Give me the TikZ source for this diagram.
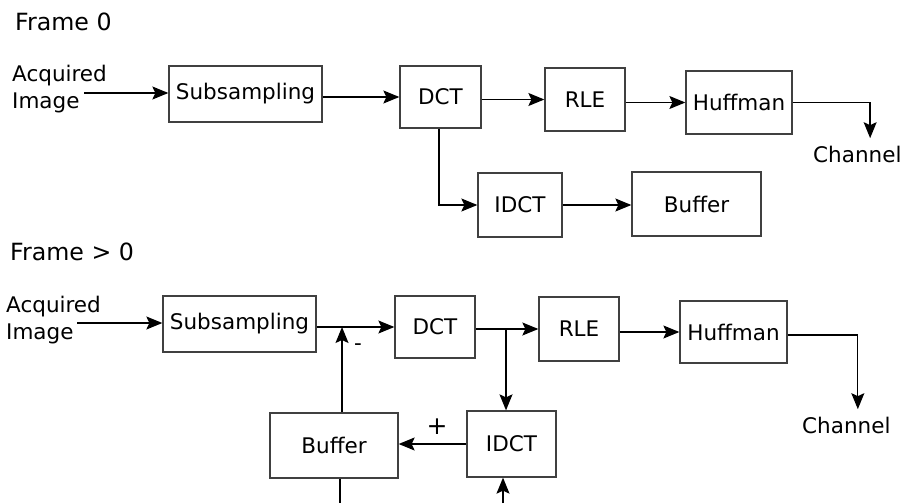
\documentclass[tikz,border=0pt]{standalone}
\usepackage{fontspec}
\setmainfont{DejaVu Sans}
\usetikzlibrary{arrows.meta,calc}

\begin{document}
\begin{tikzpicture}[x=1pt,y=-1pt,
  blk/.style={draw=black!75, line width=1.3pt, inner sep=0pt,
    font=\fontsize{21.5}{26}\selectfont},
  lbl/.style={inner sep=0pt, font=\fontsize{21.5}{27}\selectfont, align=left},
  ttl/.style={inner sep=0pt, font=\fontsize{23.7}{28}\selectfont},
  flow/.style={line width=1.3pt, -{Stealth[length=16pt,width=13pt,inset=3pt]}},
  wire/.style={line width=1.3pt}]
\useasboundingbox (0,0) rectangle (904,503);

% ---------- Frame 0 ----------
\node[ttl, anchor=base west] (f0) at (15,30.3) {Frame 0};
\node[lbl, anchor=west] (acq0) at (12,89.5) {Acquired\\Image};
\coordinate (in0) at (84,93);

\node[blk, minimum width=153pt, minimum height=56pt] (sub0)  at (245.5,94)  {Subsampling};
\node[blk, minimum width=81pt,  minimum height=62pt] (dct0)  at (440.5,97)  {DCT};
\node[blk, minimum width=80pt,  minimum height=63pt] (rle0)  at (585,99.5)  {RLE};
\node[blk, minimum width=106pt, minimum height=63pt] (huf0)  at (739,102.5) {Huffman};
\node[blk, minimum width=84pt,  minimum height=64pt] (idct0) at (520,205)   {IDCT};
\node[blk, minimum width=129pt, minimum height=64pt] (buf0)  at (696.5,204) {Buffer};
\node[lbl, anchor=base west] (chan0) at (813,162.7) {Channel};

\draw[flow] (in0) -- (in0 -| sub0.west);
\draw[flow] (sub0.east |- dct0.west) -- (dct0.west);
\draw[flow] (dct0.east |- rle0.west) -- (rle0.west);
\draw[flow] (rle0.east |- huf0.west) -- (huf0.west);
\draw[flow] (huf0.east) -| ([xshift=12.8pt,yshift=8pt]chan0.north);
\draw[flow] ([xshift=-1.5pt]dct0.south) |- (idct0.west);
\draw[flow] (idct0.east) -- (idct0.east -| buf0.west);

% ---------- Frame > 0 ----------
\node[ttl, anchor=base west] (f1) at (10,260.3) {Frame > 0};
\node[lbl, anchor=west] (acq1) at (6,320.5) {Acquired\\Image};
\coordinate (in1) at (77,323);

\node[blk, minimum width=153pt, minimum height=56pt] (sub1)  at (239.5,324) {Subsampling};
\node[blk, minimum width=80pt,  minimum height=62pt] (dct1)  at (435,327)   {DCT};
\node[blk, minimum width=80pt,  minimum height=64pt] (rle1)  at (579,329)   {RLE};
\node[blk, minimum width=107pt, minimum height=62pt] (huf1)  at (733.5,332) {Huffman};
\node[blk, minimum width=128pt, minimum height=65pt] (buf1)  at (334,445.5) {Buffer};
\node[blk, minimum width=89pt,  minimum height=66pt] (idct1) at (511.5,444) {IDCT};
\node[lbl, anchor=base west] (chan1) at (802,433.7) {Channel};

\coordinate (sum) at (342,327);
\coordinate (tap) at (506,329);
\coordinate (fbout) at (340,503);
\coordinate (fbin) at (503,503);

\draw[flow] (in1) -- (in1 -| sub1.west);
\draw[flow] (sub1.east |- dct1.west) -- (dct1.west);
\draw[flow] (buf1.north -| sum) -- (sum);
\node[lbl] (minus) at (358,347) {-};
\draw[flow] (dct1.east |- rle1.west) -- (rle1.west);
\draw[flow] (tap) -- (tap |- idct1.north);
\draw[flow] (rle1.east |- huf1.west) -- (huf1.west);
\draw[flow] ([yshift=-3pt]huf1.east) -| ([xshift=11.5pt,yshift=8pt]chan1.north);
\draw[flow] (idct1.west) -- (idct1.west -| buf1.east);
\node[lbl, font=\fontsize{25}{30}\selectfont] (plus) at (437,427) {+};
\draw[wire] (buf1.south -| fbout) -- (fbout);
\draw[flow] (fbin) -- (fbin |- idct1.south);
\end{tikzpicture}
\end{document}
